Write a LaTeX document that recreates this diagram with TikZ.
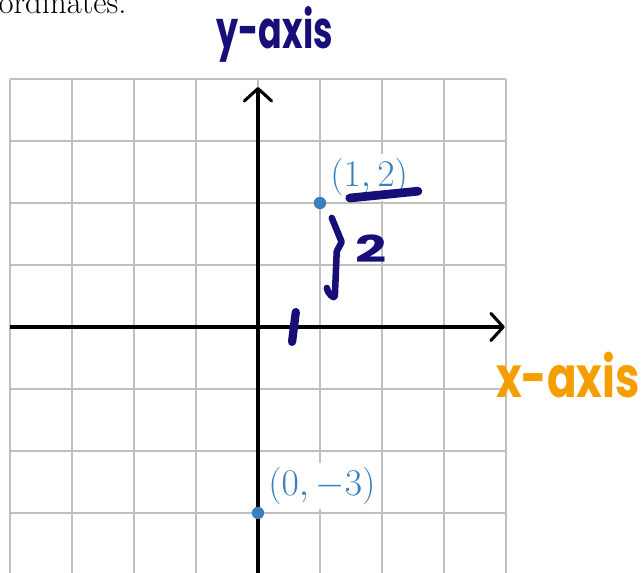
\documentclass[tikz,border=0pt]{standalone}
\usepackage{fontspec}
\newfontfamily\handfont{Poppins}
\usetikzlibrary{positioning, arrows.meta}
\definecolor{inkblue}{RGB}{24,14,120}
\definecolor{inkorange}{RGB}{245,158,0}
\definecolor{ptblue}{RGB}{58,128,190}
\definecolor{gridgray}{RGB}{192,192,192}

\begin{document}
\begin{tikzpicture}[
    gridline/.style={gridgray, line width=0.7pt},
    axis/.style={line width=1.4pt, -{Straight Barb[length=2mm, width=4.4mm, round]}},
    pt/.style={circle, fill=ptblue, inner sep=0pt, minimum size=2mm},
    ptlabel/.style={text=ptblue, fill=white, inner sep=2pt,
      font=\fontsize{18}{21}\selectfont},
    ink/.style={inkblue, line width=3.4pt, line cap=round, line join=round},
    hand/.style={inner sep=0pt, font=\handfont\bfseries\fontsize{16}{19}\selectfont},
  ]
    \useasboundingbox (-4.161,-3.952) rectangle (6.226,5.274);
    \node[anchor=base west, inner sep=0pt, font=\fontsize{15}{18}\selectfont]
      (intro) at (-4.66,5.05) {coordinates.};

    \draw[gridline] (-4,-4.5) grid (4,4);
    \coordinate (xl) at (-4,0);
    \coordinate (xr) at (3.98,0);
    \coordinate (yb) at (0,-4.5);
    \coordinate (yt) at (0,3.87);
    \draw[axis] (xl) -- (xr);
    \draw[axis] (yb) -- (yt);

    \node[ptlabel, anchor=south west] (l1) at (1.09,2.03) {$(1,2)$};
    \node[ptlabel, anchor=south west] (l2) at (0.09,-2.94) {$(0,-3)$};
    \node[pt] (p1) at (1,2) {};
    \node[pt] (p2) at (0,-3) {};

    \node[hand, text=inkblue] (ylab) at (0.27,4.71)
      {\scalebox{1}[1.5]{y-axis}};
    \node[hand, text=inkorange, font=\handfont\bfseries\fontsize{20}{24}\selectfont]
      (xlab) at (5.0,-0.77) {\scalebox{1}[1.3]{x-axis}};
    \node[hand, text=inkblue, font=\handfont\bfseries\fontsize{20}{24}\selectfont]
      (two) at (1.83,1.27) {\scalebox{1.25}[0.85]{2}};

    \coordinate (u1) at (1.48,2.08);
    \coordinate (u2) at (2.58,2.19);
    \draw[ink, line width=4pt] (u1) -- (u2);
    \draw[ink, line width=3pt] (1.19,1.76) -- (1.35,1.37) -- (1.27,1.22)
      -- (1.24,0.50) to[out=-90, in=-90] (1.11,0.63);
    \coordinate (t1) at (0.61,0.24);
    \coordinate (t2) at (0.55,-0.24);
    \draw[ink, line width=3.8pt] (t1) -- (t2);
  \end{tikzpicture}
\end{document}
